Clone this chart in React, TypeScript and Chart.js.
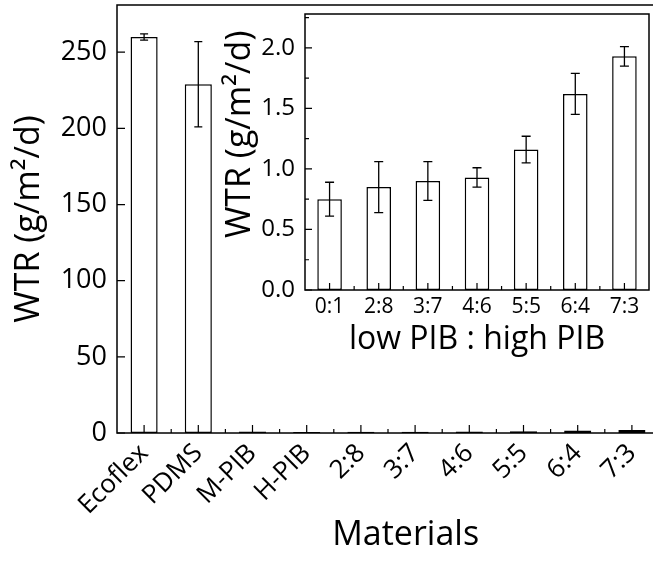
import React, { useEffect, useRef } from "react";
import { Chart, registerables } from "chart.js";

Chart.register(...registerables);

// ---- Main chart data ----
const mainCategories = ["Ecoflex", "PDMS", "M-PIB", "H-PIB", "2:8", "3:7", "4:6", "5:5", "6:4", "7:3"];
const mainValues = [260, 229, 1.0, 0.7, 0.85, 0.9, 0.93, 1.16, 1.62, 1.93];
const mainErrors = [2, 28, 0, 0, 0, 0, 0, 0, 0, 0];
const mainYTicks = [0, 50, 100, 150, 200, 250];

// ---- Inset data ----
const insetCategories = ["0:1", "2:8", "3:7", "4:6", "5:5", "6:4", "7:3"];
const insetValues = [0.75, 0.85, 0.9, 0.93, 1.16, 1.62, 1.93];
const insetErrors = [0.14, 0.21, 0.16, 0.08, 0.11, 0.17, 0.08];
const insetYTicks = [0, 0.5, 1.0, 1.5, 2.0];
const insetYMinorTicks = [0.25, 0.75, 1.25, 1.75, 2.25];

const FONT = "'Open Sans', 'Noto Sans', sans-serif";

function makeFramePlugin(yMajor: number[], yMinor: number[], majorLen: number, minorLen: number) {
  return {
    id: "frameTicks",
    afterDraw(chart: any) {
      const { ctx, chartArea: a, scales } = chart;
      const x = scales.x;
      const y = scales.y;
      ctx.save();
      ctx.strokeStyle = "#000";
      ctx.lineWidth = 1.5;
      ctx.strokeRect(a.left, a.top, a.right - a.left, a.bottom - a.top);
      ctx.lineWidth = 1.2;
      ctx.beginPath();
      yMajor.forEach((v) => {
        const py = y.getPixelForValue(v);
        ctx.moveTo(a.left, py);
        ctx.lineTo(a.left + majorLen, py);
      });
      yMinor.forEach((v) => {
        const py = y.getPixelForValue(v);
        ctx.moveTo(a.left, py);
        ctx.lineTo(a.left + minorLen, py);
      });
      const n = chart.data.labels.length;
      for (let i = 0; i < n; i++) {
        const px = x.getPixelForValue(i);
        ctx.moveTo(px, a.bottom);
        ctx.lineTo(px, a.bottom - majorLen);
      }
      for (let i = 1; i < n; i++) {
        const px = x.getPixelForValue(i - 0.5);
        ctx.moveTo(px, a.bottom);
        ctx.lineTo(px, a.bottom - minorLen);
      }
      ctx.stroke();
      ctx.restore();
    },
  };
}

function makeErrorPlugin(errors: number[], cap: number) {
  return {
    id: "errorBars",
    afterDatasetsDraw(chart: any) {
      const { ctx, scales } = chart;
      const x = scales.x;
      const y = scales.y;
      const vals = chart.data.datasets[0].data as number[];
      ctx.save();
      ctx.strokeStyle = "#000";
      ctx.lineWidth = 1.3;
      vals.forEach((v, i) => {
        const e = errors[i];
        if (!e) return;
        const px = x.getPixelForValue(i);
        const t = y.getPixelForValue(v + e);
        const b = y.getPixelForValue(v - e);
        ctx.beginPath();
        ctx.moveTo(px, t);
        ctx.lineTo(px, b);
        ctx.moveTo(px - cap, t);
        ctx.lineTo(px + cap, t);
        ctx.moveTo(px - cap, b);
        ctx.lineTo(px + cap, b);
        ctx.stroke();
      });
      ctx.restore();
    },
  };
}

export default function App() {
  const mainRef = useRef<HTMLCanvasElement>(null);
  const insetRef = useRef<HTMLCanvasElement>(null);

  useEffect(() => {
    document.body.style.margin = "0";
    Chart.defaults.color = "#000";
    Chart.defaults.font.family = FONT;

    const main = new Chart(mainRef.current as HTMLCanvasElement, {
      type: "bar",
      data: {
        labels: mainCategories,
        datasets: [
          {
            data: mainValues,
            backgroundColor: "#fff",
            borderColor: "#000",
            borderWidth: 1.5,
            borderSkipped: false,
            barPercentage: 0.5,
            categoryPercentage: 1,
          },
        ],
      },
      options: {
        animation: false,
        responsive: false,
        devicePixelRatio: 1,
        layout: { padding: { left: 0, top: 5, right: 1, bottom: 0 } },
        plugins: { legend: { display: false }, tooltip: { enabled: false } },
        scales: {
          x: {
            type: "category",
            offset: true,
            grid: { display: false, drawTicks: false },
            border: { display: false },
            ticks: {
              font: { size: 26 },
              minRotation: 45,
              maxRotation: 45,
              autoSkip: false,
              padding: 5,
            },
            title: {
              display: true,
              text: "    Materials",
              font: { size: 34 },
              padding: { top: 0, bottom: 6 },
            },
            afterFit: (s: any) => {
              s.height = 129;
              s.paddingLeft = 0;
              s.paddingRight = 0;
            },
          },
          y: {
            min: 0,
            max: 281,
            grid: { display: false, drawTicks: false },
            border: { display: false },
            ticks: {
              stepSize: 50,
              includeBounds: false,
              font: { size: 27 },
              padding: 10,
            },
            title: {
              display: true,
              text: "WTR (g/m²/d)",
              font: { size: 34 },
              padding: { top: 9, bottom: 0 },
            },
            afterFit: (s: any) => {
              s.width = 117;
              s.paddingTop = 0;
              s.paddingBottom = 0;
            },
          },
        },
      },
      plugins: [makeErrorPlugin(mainErrors, 4), makeFramePlugin(mainYTicks, [], 8, 4)],
    } as any);

    const inset = new Chart(insetRef.current as HTMLCanvasElement, {
      type: "bar",
      data: {
        labels: insetCategories,
        datasets: [
          {
            data: insetValues,
            backgroundColor: "#fff",
            borderColor: "#000",
            borderWidth: 1.5,
            borderSkipped: false,
            barPercentage: 0.5,
            categoryPercentage: 1,
          },
        ],
      },
      options: {
        animation: false,
        responsive: false,
        devicePixelRatio: 1,
        layout: { padding: { left: 0, top: 4, right: 4, bottom: 0 } },
        plugins: { legend: { display: false }, tooltip: { enabled: false } },
        scales: {
          x: {
            type: "category",
            offset: true,
            grid: { display: false, drawTicks: false },
            border: { display: false },
            ticks: { font: { size: 21 }, maxRotation: 0, autoSkip: false, padding: 4 },
            title: {
              display: true,
              text: "low PIB : high PIB",
              font: { size: 32 },
              padding: { top: 0, bottom: 3 },
            },
            afterFit: (s: any) => {
              s.height = 72;
              s.paddingLeft = 0;
              s.paddingRight = 0;
            },
          },
          y: {
            min: 0,
            max: 2.28,
            grid: { display: false, drawTicks: false },
            border: { display: false },
            ticks: {
              stepSize: 0.5,
              includeBounds: false,
              font: { size: 24 },
              padding: 10,
              callback: (v: any) => Number(v).toFixed(1),
            },
            title: {
              display: true,
              text: "    WTR (g/m²/d)",
              font: { size: 34 },
              padding: { top: 5, bottom: 0 },
            },
            afterFit: (s: any) => {
              s.width = 90;
              s.paddingTop = 0;
              s.paddingBottom = 0;
            },
          },
        },
      },
      plugins: [makeErrorPlugin(insetErrors, 4.5), makeFramePlugin(insetYTicks, insetYMinorTicks, 7, 4)],
    } as any);

    return () => {
      main.destroy();
      inset.destroy();
    };
  }, []);

  return (
    <div style={{ position: "relative", width: 653, height: 562, overflow: "hidden", background: "#fff" }}>
      <canvas ref={mainRef} width={660} height={562} style={{ position: "absolute", left: 0, top: 0 }} />
      <canvas ref={insetRef} width={438} height={352} style={{ position: "absolute", left: 215, top: 10 }} />
    </div>
  );
}
